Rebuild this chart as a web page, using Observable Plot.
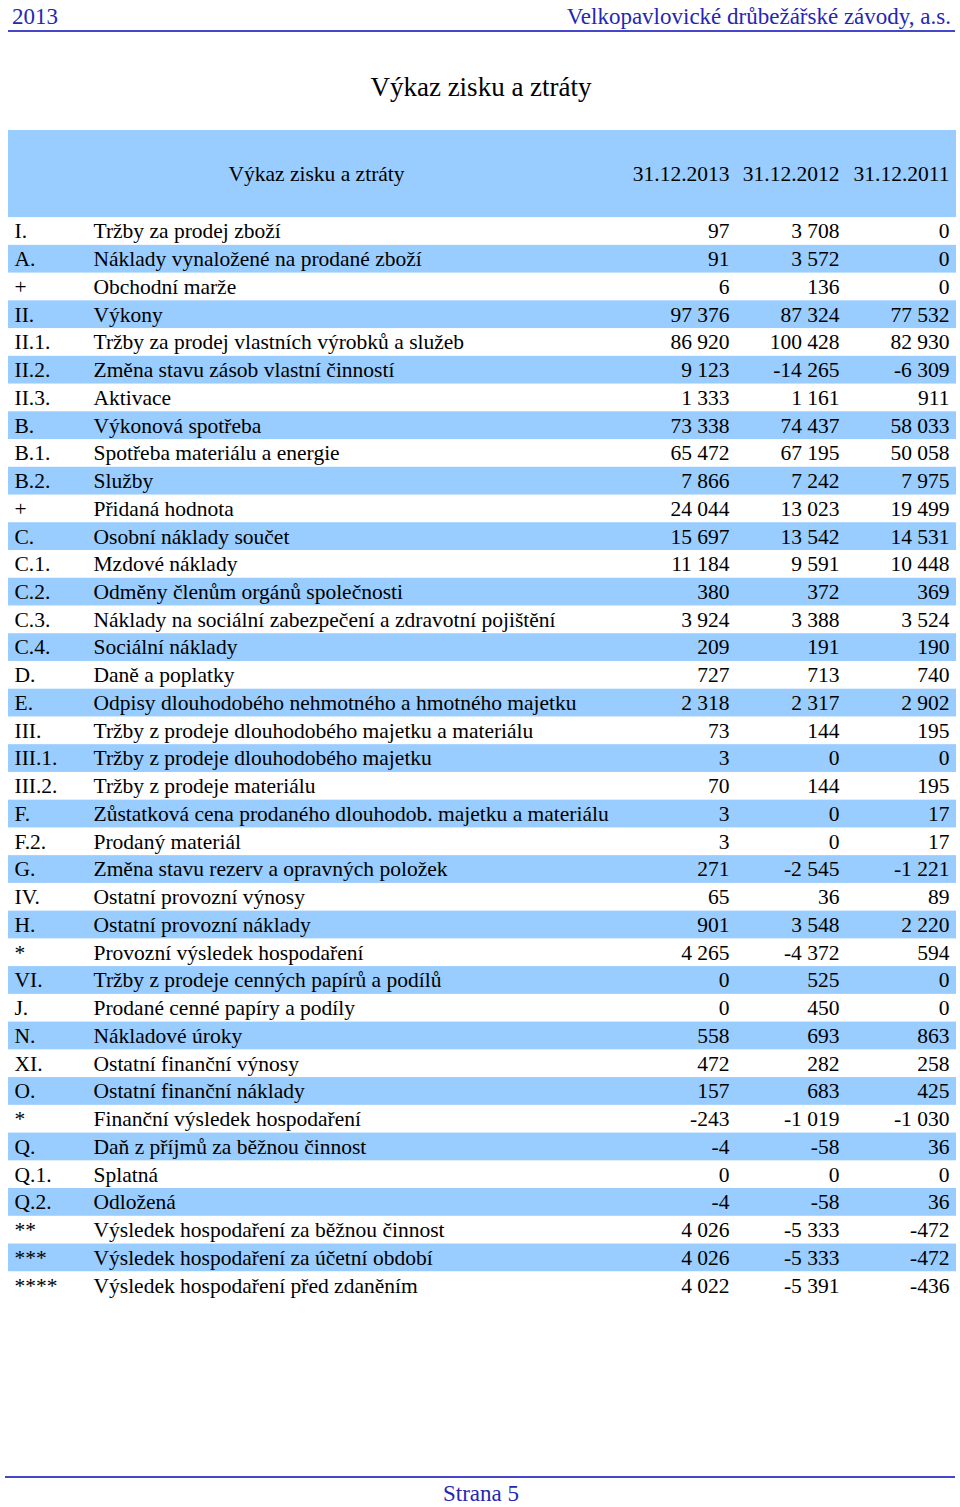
<!DOCTYPE html>
<html>
<head>
<meta charset="utf-8">
<script src="https://cdn.jsdelivr.net/npm/d3@7"></script>
<script src="https://cdn.jsdelivr.net/npm/@observablehq/plot@0.6"></script>
<style>
  html, body { margin: 0; padding: 0; background: #fff; }
  body { width: 960px; height: 1507px; position: relative; font-family: "Liberation Serif", "Times New Roman", serif; overflow: hidden; }
  .hdr { position: absolute; top: 4px; font-size: 23px; color: #2626b4; }
  .rule { position: absolute; left: 8px; width: 947px; height: 2px; background: #4646c8; }
  .title { position: absolute; top: 72px; left: 0; width: 962px; text-align: center; font-size: 27px; color: #000; }
  .foot { position: absolute; top: 1481px; left: 0; width: 962px; text-align: center; font-size: 23px; color: #2626b4; }
  #chart { position: absolute; left: 0; top: 130px; }
</style>
</head>
<body>
<div class="hdr" style="left:12px">2013</div>
<div class="hdr" style="right:9px">Velkopavlovické drůbežářské závody, a.s.</div>
<div class="rule" style="top:30px"></div>
<div class="title">Výkaz zisku a ztráty</div>
<div id="chart"></div>
<div class="rule" style="top:1476px; left:5px; width:950px"></div>
<div class="foot">Strana 5</div>
<script>
const headerTitle = "Výkaz zisku a ztráty";
const dates = ["31.12.2013", "31.12.2012", "31.12.2011"];
const codes = ["I.","A.","+","II.","II.1.","II.2.","II.3.","B.","B.1.","B.2.","+","C.","C.1.","C.2.","C.3.","C.4.","D.","E.","III.","III.1.","III.2.","F.","F.2.","G.","IV.","H.","*","VI.","J.","N.","XI.","O.","*","Q.","Q.1.","Q.2.","**","***","****"];
const labels = [
  "Tržby za prodej zboží",
  "Náklady vynaložené na prodané zboží",
  "Obchodní marže",
  "Výkony",
  "Tržby za prodej vlastních výrobků a služeb",
  "Změna stavu zásob vlastní činností",
  "Aktivace",
  "Výkonová spotřeba",
  "Spotřeba materiálu a energie",
  "Služby",
  "Přidaná hodnota",
  "Osobní náklady součet",
  "Mzdové náklady",
  "Odměny členům orgánů společnosti",
  "Náklady na sociální zabezpečení a zdravotní pojištění",
  "Sociální náklady",
  "Daně a poplatky",
  "Odpisy dlouhodobého nehmotného a hmotného majetku",
  "Tržby z prodeje dlouhodobého majetku a materiálu",
  "Tržby z prodeje dlouhodobého majetku",
  "Tržby z prodeje materiálu",
  "Zůstatková cena prodaného dlouhodob. majetku a materiálu",
  "Prodaný materiál",
  "Změna stavu rezerv a opravných položek",
  "Ostatní provozní výnosy",
  "Ostatní provozní náklady",
  "Provozní výsledek hospodaření",
  "Tržby z prodeje cenných papírů a podílů",
  "Prodané cenné papíry a podíly",
  "Nákladové úroky",
  "Ostatní finanční výnosy",
  "Ostatní finanční náklady",
  "Finanční výsledek hospodaření",
  "Daň z příjmů za běžnou činnost",
  "Splatná",
  "Odložená",
  "Výsledek hospodaření za běžnou činnost",
  "Výsledek hospodaření za účetní období",
  "Výsledek hospodaření před zdaněním"
];
const v2013 = [97,91,6,97376,86920,9123,1333,73338,65472,7866,24044,15697,11184,380,3924,209,727,2318,73,3,70,3,3,271,65,901,4265,0,0,558,472,157,-243,-4,0,-4,4026,4026,4022];
const v2012 = [3708,3572,136,87324,100428,-14265,1161,74437,67195,7242,13023,13542,9591,372,3388,191,713,2317,144,0,144,0,0,-2545,36,3548,-4372,525,450,693,282,683,-1019,-58,0,-58,-5333,-5333,-5391];
const v2011 = [0,0,0,77532,82930,-6309,911,58033,50058,7975,19499,14531,10448,369,3524,190,740,2902,195,0,195,17,17,-1221,89,2220,594,0,0,863,258,425,-1030,36,0,36,-472,-472,-436];

const fmt = d3.formatLocale({decimal: ",", thousands: " ", grouping: [3], currency: ["", ""], minus: "-"}).format(",d");
const series = [v2013, v2012, v2011];
const rows = codes.map((c, i) => ({i, code: c, label: labels[i]}));
const cells = rows.flatMap(r => dates.map((d, j) => ({i: r.i, col: d, v: series[j][r.i]})));

const HEADER = 3.14;   // header band height in row units
const blue = "#99ccff";
const H = 1169;

const chart = Plot.plot({
  width: 960,
  height: H,
  marginTop: 0, marginBottom: 0, marginLeft: 8, marginRight: 4,
  x: {type: "point", domain: dates, range: [729, 949], padding: 0, axis: null},
  y: {domain: [-HEADER, codes.length], range: [0, H], axis: null},
  style: {fontFamily: "'Liberation Serif', 'Times New Roman', serif", fontSize: "21.5px", color: "#000", background: "transparent"},
  marks: [
    Plot.rect([headerTitle], {y1: () => -HEADER, y2: () => 0, fill: blue}),
    Plot.rect(rows.filter(r => r.i % 2 === 1), {y1: r => r.i, y2: r => r.i + 1, fill: blue}),
    Plot.text([headerTitle], {text: d => d, frameAnchor: "left", dx: 308, y: () => -HEADER / 2, textAnchor: "middle", fill: "#000"}),
    Plot.text(dates, {x: d => d, y: () => -HEADER / 2, text: d => d, textAnchor: "end", fill: "#000"}),
    Plot.text(rows, {frameAnchor: "left", dx: 6, y: r => r.i + 0.5, text: "code", textAnchor: "start", fill: "#000"}),
    Plot.text(rows, {frameAnchor: "left", dx: 85, y: r => r.i + 0.5, text: "label", textAnchor: "start", fill: "#000"}),
    Plot.text(cells, {x: "col", y: d => d.i + 0.5, text: d => fmt(d.v), textAnchor: "end", fill: "#000"})
  ]
});
document.getElementById("chart").appendChild(chart);
</script>
</body>
</html>
